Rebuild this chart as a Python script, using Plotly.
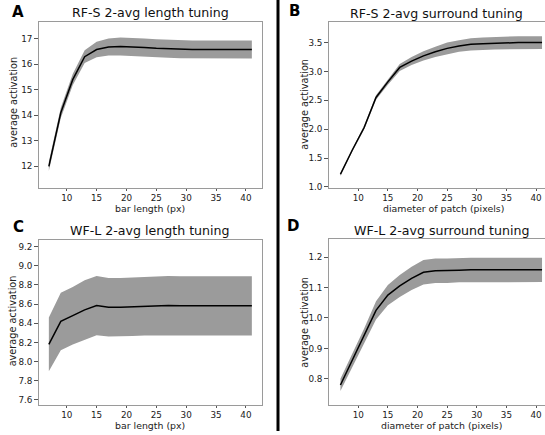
import plotly.graph_objects as go

# ---- data ----
x_vals = [7, 9, 11, 13, 15, 17, 19, 21, 23, 25, 27, 29, 31, 33, 35, 37, 39, 41]

a_mean = [12.0, 14.1, 15.4, 16.3, 16.58, 16.68, 16.70, 16.69, 16.66, 16.63, 16.61, 16.59,
          16.58, 16.58, 16.58, 16.58, 16.58, 16.58]
a_std = [0.18, 0.2, 0.22, 0.25, 0.3, 0.33, 0.35, 0.35, 0.35, 0.35, 0.35, 0.35,
         0.35, 0.35, 0.35, 0.35, 0.35, 0.35]

b_mean = [1.22, 1.64, 2.03, 2.55, 2.82, 3.07, 3.18, 3.27, 3.34, 3.40, 3.44, 3.47,
          3.48, 3.49, 3.495, 3.50, 3.50, 3.50]
b_std = [0.03, 0.03, 0.035, 0.04, 0.05, 0.06, 0.07, 0.08, 0.09, 0.1, 0.1, 0.105,
         0.11, 0.11, 0.11, 0.11, 0.11, 0.11]

c_mean = [8.18, 8.42, 8.48, 8.54, 8.585, 8.567, 8.567, 8.572, 8.58, 8.585, 8.585, 8.583,
          8.582, 8.582, 8.582, 8.582, 8.582, 8.582]
c_std = [0.28, 0.30, 0.30, 0.31, 0.31, 0.305, 0.305, 0.305, 0.307, 0.308, 0.308, 0.308,
         0.308, 0.308, 0.308, 0.308, 0.308, 0.308]

d_mean = [0.78, 0.86, 0.94, 1.025, 1.075, 1.105, 1.13, 1.15, 1.155, 1.155, 1.157, 1.158,
          1.158, 1.158, 1.158, 1.158, 1.158, 1.158]
d_std = [0.02, 0.022, 0.025, 0.03, 0.033, 0.036, 0.038, 0.04, 0.04, 0.04, 0.04, 0.04,
         0.04, 0.04, 0.04, 0.04, 0.04, 0.04]

titles = ["RF-S 2-avg length tuning", "RF-S 2-avg surround tuning",
          "WF-L 2-avg length tuning", "WF-L 2-avg surround tuning"]
panel_letters = ["A", "B", "C", "D"]
x_titles = ["bar length (px)", "diameter of patch (pixels)",
            "bar length (px)", "diameter of patch (pixels)"]
y_title = "average activation"

a_yticks = [12, 13, 14, 15, 16, 17]
b_yticks = [1.0, 1.5, 2.0, 2.5, 3.0, 3.5]
c_yticks = [7.6, 7.8, 8.0, 8.2, 8.4, 8.6, 8.8, 9.0, 9.2]
d_yticks = [0.8, 0.9, 1.0, 1.1, 1.2]
x_ticks = [10, 15, 20, 25, 30, 35, 40]

# ---- layout geometry (pixels) ----
W, H = 545, 435
FONT = "DejaVu Sans"
TXT = "#222222"
FRAME = "#9a9a9a"
TICK_SIZE = 8.8


def px_x(p):
    return p / W


def px_y(p):
    return 1 - p / H


panels = [
    dict(mean=a_mean, std=a_std, xd=(38.7, 262), yd=(22.7, 189.5), xr=[5.3, 42.7], yr=[11.16, 17.64],
         yt=a_yticks, fmt="d", mirror_y=True,
         title_xy=(150, 13), letter_xy=(18, 12), xt_xy=(150, 210), yt_xy=(13.3, 103.3)),
    dict(mean=b_mean, std=b_std, xd=(328.7, 545), yd=(22, 189.3), xr=[5.02, 41.5], yr=[0.99, 3.86],
         yt=b_yticks, fmt=".1f", mirror_y=False,
         title_xy=(436, 13.5), letter_xy=(294, 11.5), xt_xy=(443, 210), yt_xy=(303.7, 105)),
    dict(mean=c_mean, std=c_std, xd=(38.7, 262), yd=(242, 408.3), xr=[5.3, 42.7], yr=[7.552, 9.272],
         yt=c_yticks, fmt=".1f", mirror_y=True,
         title_xy=(150, 233), letter_xy=(18, 229), xt_xy=(150, 429), yt_xy=(12.3, 324)),
    dict(mean=d_mean, std=d_std, xd=(328.7, 545), yd=(241.3, 408.5), xr=[5.02, 41.5], yr=[0.715, 1.259],
         yt=d_yticks, fmt=".1f", mirror_y=False,
         title_xy=(441, 232.7), letter_xy=(292.5, 228), xt_xy=(441, 429), yt_xy=(303.7, 325)),
]

fig = go.Figure()
layout = dict(
    width=W, height=H,
    margin=dict(l=0, r=0, t=0, b=0),
    paper_bgcolor="white", plot_bgcolor="white",
    showlegend=False,
    font=dict(family=FONT, size=TICK_SIZE, color=TXT),
)
annotations = []

for i, p in enumerate(panels):
    n = i + 1
    xa = "x" if n == 1 else f"x{n}"
    ya = "y" if n == 1 else f"y{n}"
    upper = [m + s for m, s in zip(p["mean"], p["std"])]
    lower = [m - s for m, s in zip(p["mean"], p["std"])]
    fig.add_trace(go.Scatter(
        x=x_vals + x_vals[::-1], y=upper + lower[::-1],
        fill="toself", fillcolor="#9b9b9b", line=dict(width=0),
        mode="lines", hoverinfo="skip", xaxis=xa, yaxis=ya))
    fig.add_trace(go.Scatter(
        x=x_vals, y=p["mean"], mode="lines",
        line=dict(color="black", width=1.5), xaxis=xa, yaxis=ya))

    xkey = "xaxis" if n == 1 else f"xaxis{n}"
    ykey = "yaxis" if n == 1 else f"yaxis{n}"
    layout[xkey] = dict(
        domain=[px_x(p["xd"][0]), px_x(p["xd"][1])], range=p["xr"], anchor=ya,
        showline=True, linecolor=FRAME, linewidth=1, mirror=True,
        ticks="outside", ticklen=2, tickcolor="#555555", tickwidth=1,
        tickvals=x_ticks, showgrid=False, zeroline=False,
        tickfont=dict(family=FONT, size=TICK_SIZE, color=TXT))
    layout[ykey] = dict(
        domain=[px_y(p["yd"][1]), px_y(p["yd"][0])], range=p["yr"], anchor=xa,
        showline=True, linecolor=FRAME, linewidth=1, mirror=p["mirror_y"],
        ticks="outside", ticklen=3.5, tickcolor="#555555", tickwidth=1,
        tickvals=p["yt"], tickformat=p["fmt"], showgrid=False, zeroline=False,
        tickfont=dict(family=FONT, size=TICK_SIZE, color=TXT))

    annotations.append(dict(text=titles[i], x=px_x(p["title_xy"][0]), y=px_y(p["title_xy"][1]),
                            xref="paper", yref="paper", showarrow=False,
                            xanchor="center", yanchor="middle",
                            font=dict(family=FONT, size=12.6, color="#111111")))
    annotations.append(dict(text="<b>" + panel_letters[i] + "</b>",
                            x=px_x(p["letter_xy"][0]), y=px_y(p["letter_xy"][1]),
                            xref="paper", yref="paper", showarrow=False,
                            xanchor="center", yanchor="middle",
                            font=dict(family=FONT, size=15, color="black")))
    annotations.append(dict(text=x_titles[i], x=px_x(p["xt_xy"][0]), y=px_y(p["xt_xy"][1]),
                            xref="paper", yref="paper", showarrow=False,
                            xanchor="center", yanchor="middle", borderpad=0,
                            font=dict(family=FONT, size=9.4, color=TXT)))
    annotations.append(dict(text=y_title, x=px_x(p["yt_xy"][0]), y=px_y(p["yt_xy"][1]),
                            xref="paper", yref="paper", showarrow=False, textangle=-90,
                            xanchor="center", yanchor="middle",
                            font=dict(family=FONT, size=9.7, color=TXT)))

layout["annotations"] = annotations
layout["shapes"] = [dict(type="line", xref="paper", yref="paper",
                         x0=px_x(278), x1=px_x(278), y0=0, y1=1,
                         line=dict(color="black", width=3))]
fig.update_layout(**layout)
fig.write_html("out.html", config={"displayModeBar": False},
               post_script="document.body.style.margin='0';")
